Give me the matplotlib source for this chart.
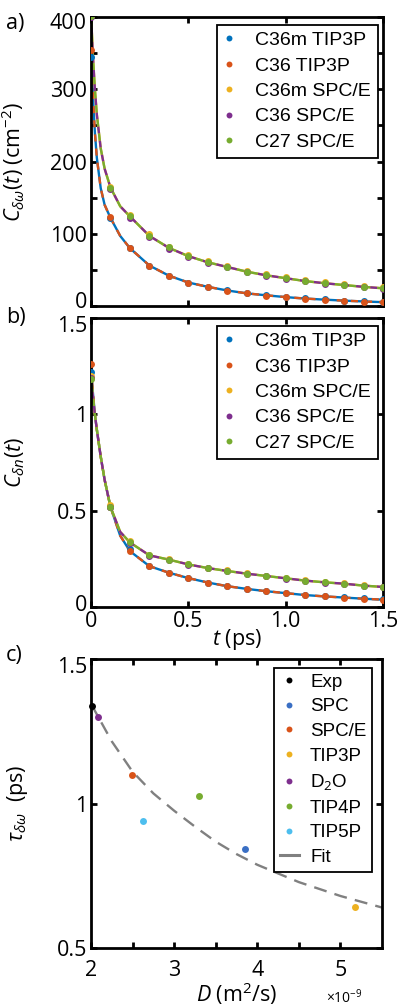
import numpy as np
import matplotlib
matplotlib.use('Agg')
import matplotlib.pyplot as plt
from matplotlib.lines import Line2D
from matplotlib.ticker import MultipleLocator, FixedLocator
from matplotlib.transforms import ScaledTranslation

plt.rcParams['font.family'] = ['Open Sans', 'DejaVu Sans']
plt.rcParams['mathtext.fontset'] = 'custom'
plt.rcParams['mathtext.rm'] = 'Open Sans'
plt.rcParams['mathtext.it'] = 'Open Sans:italic'
plt.rcParams['mathtext.bf'] = 'Open Sans:bold'

# MATLAB default colour order
BLUE = '#0072BD'
ORANGE = '#D95319'
YELLOW = '#EDB120'
PURPLE = '#7E2F8E'
GREEN = '#77AC30'
CYAN = '#4DBEEE'

series_names = ['C36m TIP3P', 'C36 TIP3P', 'C36m SPC/E', 'C36 SPC/E', 'C27 SPC/E']
series_colors = [BLUE, ORANGE, YELLOW, PURPLE, GREEN]

# sampled correlation functions, t in ps
t = [0.0, 0.1, 0.2, 0.3, 0.4, 0.5, 0.6, 0.7, 0.8, 0.9, 1.0, 1.1, 1.2, 1.3, 1.4, 1.5]

# a) frequency fluctuation TCF (cm^-2)
cw_c36m_tip3p = [345, 122, 80, 56, 42, 32.5, 26.5, 21.5, 17.5, 15, 12.5, 10.5, 9, 7.5, 6.5, 5.5]
cw_c36_tip3p = [355, 123, 80, 56, 41.5, 32, 26, 21, 17.5, 14.5, 12, 10, 8.5, 7, 6, 5]
cw_c36m_spce = [405, 165, 126, 99, 82, 71, 62, 56, 49, 44, 40, 36, 33, 30, 28, 26]
cw_c36_spce = [400, 162, 122, 96, 79, 68, 59.5, 53.5, 47, 42, 38, 34, 31, 28.5, 26, 24]
cw_c27_spce = [402, 163, 124, 97, 81, 69, 60.5, 54.5, 47.5, 42.5, 38.5, 34.5, 32, 29, 26.5, 24.5]

# b) normalised TCF
cn_c36m_tip3p = [1.22, 0.52, 0.30, 0.212, 0.178, 0.150, 0.127, 0.108, 0.094, 0.082, 0.072, 0.063, 0.056, 0.050, 0.045, 0.040]
cn_c36_tip3p = [1.26, 0.52, 0.29, 0.211, 0.178, 0.150, 0.126, 0.107, 0.093, 0.081, 0.071, 0.061, 0.055, 0.048, 0.042, 0.036]
cn_c36m_spce = [1.20, 0.53, 0.34, 0.272, 0.250, 0.224, 0.205, 0.190, 0.176, 0.163, 0.151, 0.139, 0.130, 0.123, 0.113, 0.106]
cn_c36_spce = [1.19, 0.52, 0.33, 0.266, 0.244, 0.219, 0.200, 0.185, 0.171, 0.159, 0.147, 0.136, 0.127, 0.119, 0.110, 0.103]
cn_c27_spce = [1.185, 0.52, 0.335, 0.268, 0.246, 0.221, 0.202, 0.187, 0.173, 0.161, 0.149, 0.137, 0.128, 0.121, 0.111, 0.104]

# multi-exponential fit curves (TIP3P group / SPC/E group)
t_fit = [0.0, 0.01, 0.02, 0.03, 0.05, 0.07, 0.1, 0.15, 0.2, 0.3, 0.4, 0.5, 0.6, 0.7, 0.8, 0.9, 1.0, 1.1, 1.2, 1.3, 1.4, 1.5]
fit_a_tip3p = [355, 290, 240, 205, 163, 140, 122, 97, 80, 56, 42, 32.5, 26.5, 21.5, 17.5, 14.8, 12.3, 10.3, 8.8, 7.4, 6.3, 5.3]
fit_a_spce = [405, 345, 300, 265, 218, 190, 164, 138, 124, 97, 80.5, 69, 60.5, 54, 47.5, 42.5, 38.5, 34.5, 31.5, 29, 26.5, 24.5]
fit_b_tip3p = [1.24, 1.11, 1.00, 0.92, 0.78, 0.66, 0.52, 0.37, 0.29, 0.212, 0.178, 0.150, 0.127, 0.108, 0.094, 0.082, 0.072, 0.062, 0.055, 0.049, 0.043, 0.038]
fit_b_spce = [1.19, 1.09, 1.00, 0.92, 0.78, 0.66, 0.52, 0.39, 0.335, 0.268, 0.246, 0.221, 0.202, 0.187, 0.173, 0.161, 0.149, 0.137, 0.128, 0.121, 0.111, 0.104]

# c) decay time vs diffusion coefficient (D in 1e-9 m^2/s)
models = ['Exp', 'SPC', 'SPC/E', 'TIP3P', 'D$_2$O', 'TIP4P', 'TIP5P']
model_colors = ['black', '#3A6FC4', ORANGE, YELLOW, PURPLE, GREEN, CYAN]
D = [2.01, 3.85, 2.49, 5.18, 2.08, 3.30, 2.62]
tau = [1.338, 0.842, 1.098, 0.642, 1.30, 1.025, 0.938]
D_fit = [2.0, 2.25, 2.5, 2.75, 3.0, 3.25, 3.5, 3.75, 4.0, 4.5, 5.0, 5.5]
tau_fit = [1.345, 1.215, 1.11, 1.035, 0.975, 0.92, 0.868, 0.825, 0.788, 0.728, 0.680, 0.640]

W, H = 399, 1007
fig = plt.figure(figsize=(W / 100, H / 100), dpi=100)


def box(left, top, right, bottom):
    return [left / W, 1 - bottom / H, (right - left) / W, (bottom - top) / H]


ax_a = fig.add_axes(box(91, 17, 383, 306))
ax_b = fig.add_axes(box(91, 318, 383, 607))
ax_c = fig.add_axes(box(91, 659, 382, 948))

LW = 1.7
MS = 5.0
FS = 15.5


def style(ax):
    for sp in ax.spines.values():
        sp.set_linewidth(2.0)
    ax.tick_params(which='both', direction='in', top=True, right=True,
                   length=4, width=2.0, labelsize=FS, pad=3)


def nudge_end_labels(ax, top=5, bottom=5):
    # pull the outermost y labels a few pixels towards the middle
    ticks = ax.yaxis.get_major_ticks()
    for tick, dy in ((ticks[0], bottom), (ticks[-1], -top)):
        lab = tick.label1
        lab.set_transform(lab.get_transform() + ScaledTranslation(0, dy / 100, fig.dpi_scale_trans))


def draw_tcf(ax, fit_low, fit_high, values):
    ax.plot(t_fit, fit_low, color=BLUE, lw=LW, zorder=2)
    ax.plot(t_fit, fit_low, color=ORANGE, lw=LW, ls=(0, (3, 3)), zorder=2)
    ax.plot(t_fit, fit_high, color=YELLOW, lw=LW, zorder=2)
    ax.plot(t_fit, fit_high, color=PURPLE, lw=LW, ls=(0, (3, 3)), zorder=2)
    ax.plot(t_fit, fit_high, color=GREEN, lw=LW, ls=(3, (3, 3)), zorder=2)
    for v, c, name in zip(values, series_colors, series_names):
        ax.plot(t, v, 'o', color=c, ms=MS, mec='none', label=name, zorder=3)
    leg = ax.legend(loc='upper right', bbox_to_anchor=(0.982, 0.973), fancybox=False,
                    edgecolor='black', framealpha=1, handlelength=0.5, handletextpad=1.1,
                    borderpad=0.35, borderaxespad=0, labelspacing=0.4,
                    prop={'family': 'Liberation Sans', 'size': 14}, markerscale=0.85)
    leg.get_frame().set_linewidth(1.3)


# a)
draw_tcf(ax_a, fit_a_tip3p, fit_a_spce,
         [cw_c36m_tip3p, cw_c36_tip3p, cw_c36m_spce, cw_c36_spce, cw_c27_spce])
ax_a.set_xlim(0, 1.5)
ax_a.set_ylim(0, 400)
ax_a.xaxis.set_major_locator(FixedLocator([0, 0.5, 1.0, 1.5]))
ax_a.yaxis.set_major_locator(FixedLocator([0, 100, 200, 300, 400]))
ax_a.yaxis.set_minor_locator(MultipleLocator(50))
ax_a.set_xticklabels([])
ax_a.set_yticklabels(['0', '100', '200', '300', '400'])
style(ax_a)
nudge_end_labels(ax_a, top=4, bottom=6)
ax_a.set_ylabel(r'$C_{\delta\omega}(t)$ (cm$^{-2}$)', fontsize=FS)
ax_a.yaxis.set_label_coords(-0.219, 0.5)

# b)
draw_tcf(ax_b, fit_b_tip3p, fit_b_spce,
         [cn_c36m_tip3p, cn_c36_tip3p, cn_c36m_spce, cn_c36_spce, cn_c27_spce])
ax_b.set_xlim(0, 1.5)
ax_b.set_ylim(0, 1.5)
ax_b.set_xticks([0, 0.5, 1.0, 1.5])
ax_b.set_xticklabels(['0', '0.5', '1.0', '1.5'])
ax_b.set_yticks([0, 0.5, 1.0, 1.5])
ax_b.set_yticklabels(['0', '0.5', '1', '1.5'])
style(ax_b)
nudge_end_labels(ax_b, top=6, bottom=4)
ax_b.set_ylabel(r'$C_{\delta n}(t)$', fontsize=FS)
ax_b.yaxis.set_label_coords(-0.219, 0.5)
ax_b.set_xlabel(r'$t$ (ps)', fontsize=FS, labelpad=-4)

# c)
ax_c.plot(D_fit, tau_fit, color='#808080', lw=LW, ls=(0, (5.5, 3.5)), zorder=2)
handles = []
for d, tt, c, name in zip(D, tau, model_colors, models):
    ax_c.plot(d, tt, 'o', color=c, ms=MS, mec='none', zorder=3, clip_on=False)
    handles.append(Line2D([], [], ls='none', marker='o', color=c, ms=MS * 0.85, mec='none', label=name))
handles.append(Line2D([], [], color='#808080', lw=2.2, label='Fit'))
leg = ax_c.legend(handles=handles, loc='upper right', bbox_to_anchor=(0.966, 0.969),
                  fancybox=False, edgecolor='black', framealpha=1, handlelength=1.0,
                  handletextpad=0.6, borderpad=0.3, borderaxespad=0, labelspacing=0.4,
                  prop={'family': 'Liberation Sans', 'size': 13.5})
leg.get_frame().set_linewidth(1.3)
ax_c.set_xlim(2, 5.5)
ax_c.set_ylim(0.5, 1.5)
ax_c.xaxis.set_major_locator(FixedLocator([2, 3, 4, 5]))
ax_c.xaxis.set_minor_locator(FixedLocator([2.5, 3.5, 4.5]))
ax_c.set_xticklabels(['2', '3', '4', '5'])
ax_c.set_yticks([0.5, 1.0, 1.5])
ax_c.set_yticklabels(['0.5', '1', '1.5'])
style(ax_c)
ax_c.tick_params(axis='x', which='major', pad=9)
nudge_end_labels(ax_c, top=6, bottom=0)
ax_c.set_ylabel(r'$\tau_{\delta\omega}$  (ps)', fontsize=FS)
ax_c.yaxis.set_label_coords(-0.21, 0.5)
ax_c.set_xlabel(r'$D$ (m$^2$/s)', fontsize=FS, labelpad=-1)
fig.text(326 / W, 1 - 1003 / H, r'$\times$10$^{-9}$', fontsize=10, va='baseline', ha='left')

# panel letters
fig.text(6 / W, 1 - 24 / H, 'a)', fontsize=FS, va='center')
fig.text(6 / W, 1 - 318 / H, 'b)', fontsize=FS, va='center')
fig.text(6 / W, 1 - 655 / H, 'c)', fontsize=FS, va='center')

fig.savefig('out.png', dpi=100)
